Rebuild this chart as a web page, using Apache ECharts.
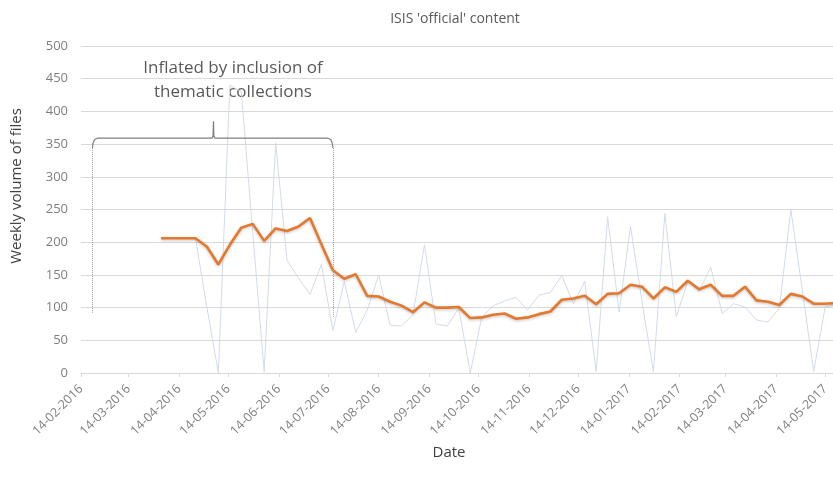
<!DOCTYPE html>
<html>
<head>
<meta charset="utf-8">
<title>ISIS 'official' content</title>
<script src="https://cdn.jsdelivr.net/npm/echarts@6/dist/echarts.min.js"></script>
<style>
html, body { margin: 0; padding: 0; background: #fff; }
#chart { width: 833px; height: 483px; }
</style>
</head>
<body>
<div id="chart"></div>
<script>
// weekly dates (Sundays)
var weeks = [
    '2016-04-03', '2016-04-10', '2016-04-17', '2016-04-24', '2016-05-01', '2016-05-08',
    '2016-05-15', '2016-05-22', '2016-05-29', '2016-06-05', '2016-06-12', '2016-06-19',
    '2016-06-26', '2016-07-03', '2016-07-10', '2016-07-17', '2016-07-24', '2016-07-31',
    '2016-08-07', '2016-08-14', '2016-08-21', '2016-08-28', '2016-09-04', '2016-09-11',
    '2016-09-18', '2016-09-25', '2016-10-02', '2016-10-09', '2016-10-16', '2016-10-23',
    '2016-10-30', '2016-11-06', '2016-11-13', '2016-11-20', '2016-11-27', '2016-12-04',
    '2016-12-11', '2016-12-18', '2016-12-25', '2017-01-01', '2017-01-08', '2017-01-15',
    '2017-01-22', '2017-01-29', '2017-02-05', '2017-02-12', '2017-02-19', '2017-02-26',
    '2017-03-05', '2017-03-12', '2017-03-19', '2017-03-26', '2017-04-02', '2017-04-09',
    '2017-04-16', '2017-04-23', '2017-04-30', '2017-05-07', '2017-05-14', '2017-05-21'
];

// raw weekly volume (faint line)
var weekly = [
    206, 206, 206, 206, 100, 0, 440, 430, 215, 2,
    352, 172, 145, 120, 166, 65, 140, 62, 96, 150,
    73, 72, 89, 196, 75, 72, 99, 0, 85, 103,
    110, 116, 96, 119, 123, 149, 106, 140, 2, 239,
    93, 224, 109, 2, 244, 86, 140, 125, 162, 91,
    106, 101, 81, 78, 99, 250, 127, 2, 101, 105
];

// smoothed trend (orange line)
var trend = [
    206, 206, 206, 206, 193, 166, 196, 222, 228, 202,
    221, 217, 224, 237, 197, 157, 144, 151, 118, 117,
    109, 103, 93, 108, 100, 100, 101, 84, 85, 89,
    91, 83, 85, 90, 94, 112, 114, 118, 105, 121,
    122, 135, 132, 114, 131, 124, 141, 128, 135, 118,
    118, 132, 111, 109, 104, 121, 117, 106, 106, 107
];

var tickDays = [
    '2016-02-14', '2016-03-14', '2016-04-14', '2016-05-14', '2016-06-14', '2016-07-14',
    '2016-08-14', '2016-09-14', '2016-10-14', '2016-11-14', '2016-12-14', '2017-01-14',
    '2017-02-14', '2017-03-14', '2017-04-14', '2017-05-14'
];

var noteLines = ['Inflated by inclusion of', 'thematic collections'];

function day(s, h) {
    var p = s.split('-');
    return new Date(+p[0], p[1] - 1, +p[2], h || 0).getTime();
}
function pad(n) { return n < 10 ? '0' + n : '' + n; }
function fmt(v) {
    var d = new Date(v);
    return pad(d.getDate()) + '-' + pad(d.getMonth() + 1) + '-' + d.getFullYear();
}

var chart = echarts.init(document.getElementById('chart'));
var font = "'Open Sans', 'Noto Sans', sans-serif";
var tickValues = tickDays.map(function (s) { return day(s); });

// bracket over the inflated period
var bracket = [
    [day('2016-02-21'), 344], [day('2016-02-21', 10), 352], [day('2016-02-22', 8), 357],
    [day('2016-02-24'), 359], [day('2016-05-04', 4), 359], [day('2016-05-04', 18), 363],
    [day('2016-05-05'), 385], [day('2016-05-05', 6), 363], [day('2016-05-05', 20), 359],
    [day('2016-07-14'), 359], [day('2016-07-15', 16), 357], [day('2016-07-16', 14), 352],
    [day('2016-07-17'), 344]
];

var option = {
    animation: false,
    textStyle: { fontFamily: font },
    title: {
        text: "ISIS 'official' content",
        left: 450,
        top: 7,
        textAlign: 'center',
        textStyle: { fontSize: 14, fontWeight: 'normal', color: '#595959', fontFamily: font }
    },
    graphic: [
        {
            type: 'text', x: 233, y: 60,
            style: { text: noteLines[0], fill: '#595959', font: '17px ' + font, textAlign: 'center' }
        },
        {
            type: 'text', x: 233, y: 84,
            style: { text: noteLines[1], fill: '#595959', font: '17px ' + font, textAlign: 'center' }
        },
        {
            type: 'text', x: 9, y: 186, rotation: Math.PI / 2,
            style: { text: 'Weekly volume of files', fill: '#404040', font: '15px ' + font, textAlign: 'center' }
        }
    ],
    grid: { left: 81, right: 0, top: 46, bottom: 110 },
    xAxis: {
        type: 'value',
        min: day('2016-02-14'),
        max: day('2017-05-18', 19),
        name: 'Date',
        nameLocation: 'middle',
        nameGap: 56,
        nameTextStyle: { fontSize: 15, color: '#404040', fontFamily: font, padding: [0, 16, 0, 0] },
        axisLine: { lineStyle: { color: '#d9d9d9' } },
        axisTick: { show: true, length: 4, lineStyle: { color: '#d9d9d9' }, customValues: tickValues },
        axisLabel: {
            customValues: tickValues,
            formatter: fmt,
            rotate: 45,
            margin: 14,
            fontSize: 12.5,
            color: '#7f7f7f',
            fontFamily: font
        },
        splitLine: { show: false }
    },
    yAxis: {
        type: 'value',
        min: 0,
        max: 500,
        interval: 50,
        axisLine: { show: false },
        axisTick: { show: false },
        axisLabel: { fontSize: 13, color: '#7f7f7f', margin: 13, fontFamily: font },
        splitLine: { lineStyle: { color: '#d9d9d9', width: 1 } }
    },
    series: [
        {
            name: 'weekly',
            type: 'line',
            symbol: 'none',
            z: 1,
            lineStyle: { color: '#d3dbea', width: 1 },
            data: weeks.map(function (w, i) { return [day(w), weekly[i]]; })
        },
        {
            name: 'trend',
            type: 'line',
            symbol: 'none',
            z: 3,
            lineStyle: {
                color: '#e4782d', width: 2.6,
                shadowColor: 'rgba(0,0,0,0.25)', shadowBlur: 3, shadowOffsetY: 1
            },
            data: weeks.map(function (w, i) { return [day(w), trend[i]]; })
        },
        {
            name: 'bracket',
            type: 'line',
            symbol: 'none',
            silent: true,
            z: 2,
            lineStyle: { color: '#7f7f7f', width: 1.2 },
            data: bracket,
            markLine: {
                silent: true,
                symbol: 'none',
                label: { show: false },
                lineStyle: { color: '#a6a6a6', type: 'dotted', width: 1 },
                data: [
                    [{ coord: [day('2016-02-21'), 344] }, { coord: [day('2016-02-21'), 92] }],
                    [{ coord: [day('2016-07-17'), 344] }, { coord: [day('2016-07-17'), 86] }]
                ]
            }
        }
    ]
};
chart.setOption(option);
</script>
</body>
</html>
